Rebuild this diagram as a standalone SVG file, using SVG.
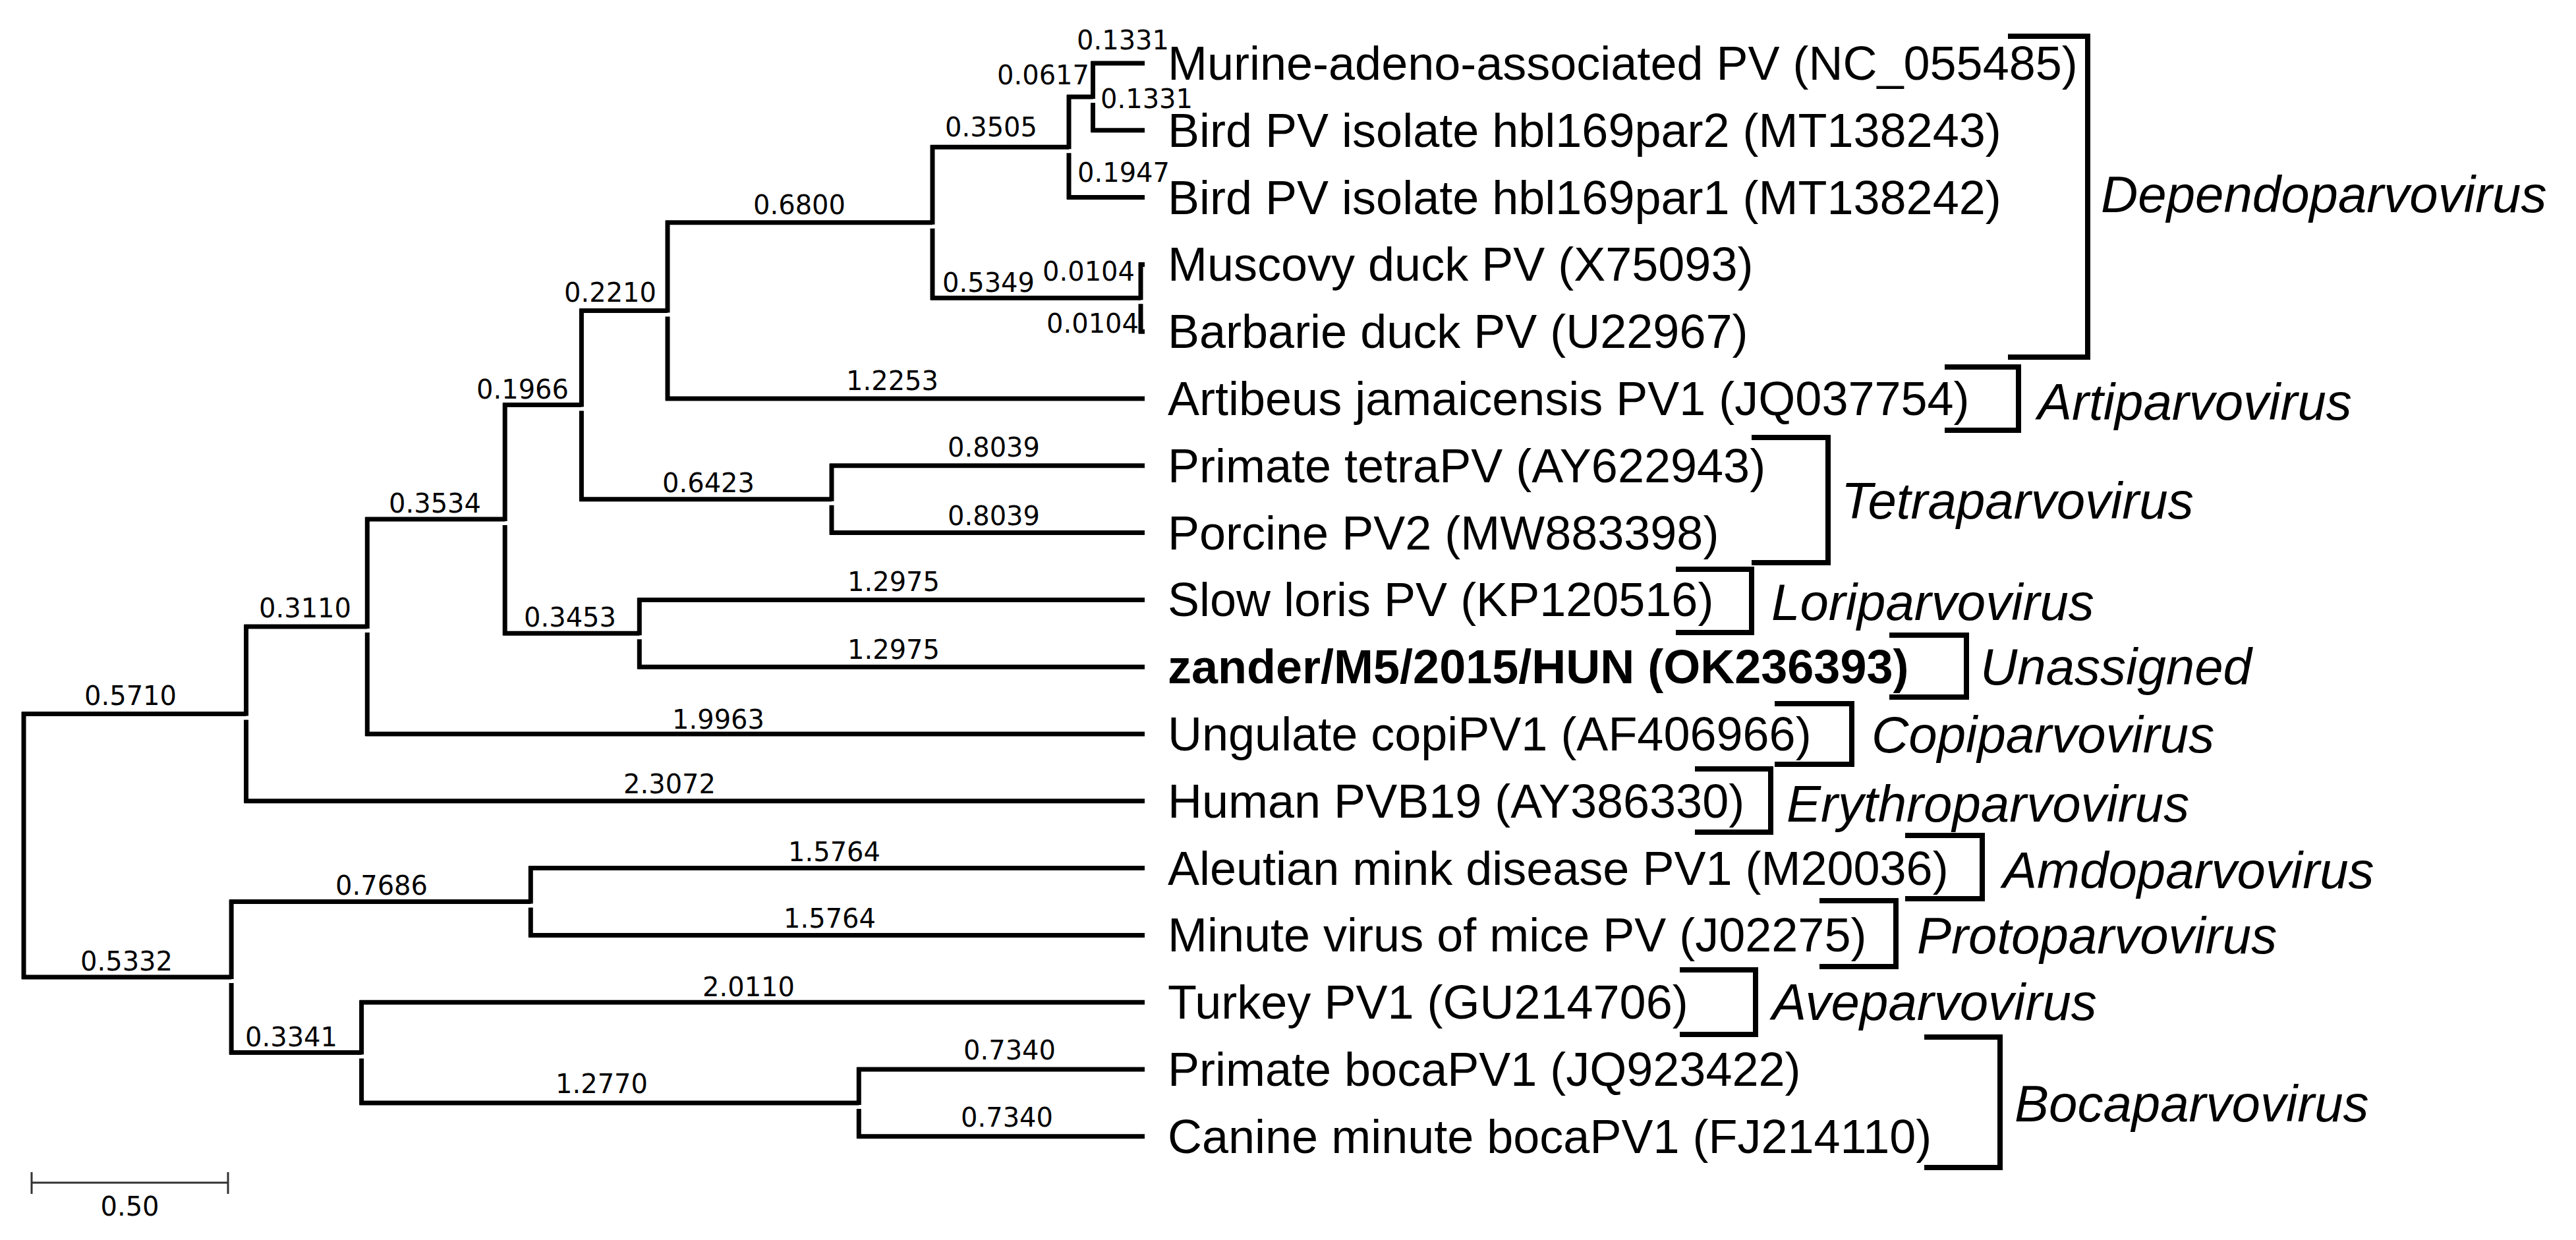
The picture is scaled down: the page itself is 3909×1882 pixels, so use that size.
<svg xmlns="http://www.w3.org/2000/svg" width="3909" height="1882" viewBox="0 0 3909 1882">
<style>
.br{stroke:#000;stroke-width:7;fill:none}
.bk{stroke:#000;stroke-width:8;fill:none}
.sb{stroke:#333;stroke-width:3;fill:none}
.tx{font-family:"Liberation Sans",Arial,sans-serif;font-size:72px;fill:#000}
.bold{font-weight:bold}
.bl{font-family:"DejaVu Sans",Verdana,sans-serif;font-size:40px;text-anchor:middle;fill:#000}
.gn{font-family:"Liberation Sans",Arial,sans-serif;font-size:78px;font-style:italic;fill:#000}
</style>
<rect width="3909" height="1882" fill="#fff"/>
<g id="connectors">
<path class="br" d="M36,1080.4 V1486 M33,1083.4 H373.5 M33,1483 H351.1"/>
<path class="br" d="M373.5,947.95 V1086.4 M373.5,1092.4 V1218.8 M370.5,950.95 H557.3 M370.5,1215.8 H1737"/>
<path class="br" d="M557.3,784.9 V953.95 M557.3,959.95 V1117 M554.3,787.9 H766.2 M554.3,1114 H1737"/>
<path class="br" d="M766.2,611.55 V790.9 M766.2,796.9 V964.3 M763.2,614.55 H882.4 M763.2,961.3 H970.3"/>
<path class="br" d="M882.4,468.4 V617.55 M882.4,623.55 V760.7 M879.4,471.4 H1013 M879.4,757.7 H1262"/>
<path class="br" d="M1013,334.8 V474.4 M1013,480.4 V608 M1010,337.8 H1415 M1010,605 H1737"/>
<path class="br" d="M1415,220.25 V340.8 M1415,346.8 V455.3 M1412,223.25 H1622 M1412,452.3 H1731"/>
<path class="br" d="M1622,143.9 V226.25 M1622,232.25 V302.6 M1619,146.9 H1658.5 M1619,299.6 H1737"/>
<path class="br" d="M1658.5,93 V149.9 M1658.5,155.9 V200.8 M1655.5,96 H1737 M1655.5,197.8 H1737"/>
<path class="br" d="M1731,398.4 V455.3 M1731,461.3 V506.2 M1728,401.4 H1737 M1728,503.2 H1737"/>
<path class="br" d="M1262,703.8 V760.7 M1262,766.7 V811.6 M1259,706.8 H1737 M1259,808.6 H1737"/>
<path class="br" d="M970.3,907.4 V964.3 M970.3,970.3 V1015.2 M967.3,910.4 H1737 M967.3,1012.2 H1737"/>
<path class="br" d="M351.1,1365.5 V1486 M351.1,1492 V1600.55 M348.1,1368.5 H805.3 M348.1,1597.55 H548.6"/>
<path class="br" d="M805.3,1314.6 V1371.5 M805.3,1377.5 V1422.4 M802.3,1317.6 H1737 M802.3,1419.4 H1737"/>
<path class="br" d="M548.6,1518.2 V1600.55 M548.6,1606.55 V1676.9 M545.6,1521.2 H1737 M545.6,1673.9 H1303.3"/>
<path class="br" d="M1303.3,1620 V1676.9 M1303.3,1682.9 V1727.8 M1300.3,1623 H1737 M1300.3,1724.8 H1737"/>
</g>
<g id="branch-lengths">
<text class="bl" x="198" y="1070">0.5710</text>
<text class="bl" x="192" y="1473">0.5332</text>
<text class="bl" x="463" y="937">0.3110</text>
<text class="bl" x="1016" y="1204">2.3072</text>
<text class="bl" x="660" y="778">0.3534</text>
<text class="bl" x="1090" y="1106">1.9963</text>
<text class="bl" x="793" y="605">0.1966</text>
<text class="bl" x="865" y="951">0.3453</text>
<text class="bl" x="926" y="458">0.2210</text>
<text class="bl" x="1075" y="747">0.6423</text>
<text class="bl" x="1213" y="325">0.6800</text>
<text class="bl" x="1354" y="592">1.2253</text>
<text class="bl" x="1504" y="207">0.3505</text>
<text class="bl" x="1500" y="443">0.5349</text>
<text class="bl" x="1583" y="128">0.0617</text>
<text class="bl" x="1705" y="276">0.1947</text>
<text class="bl" x="1704" y="75">0.1331</text>
<text class="bl" x="1740" y="164">0.1331</text>
<text class="bl" x="1652" y="426">0.0104</text>
<text class="bl" x="1658" y="505">0.0104</text>
<text class="bl" x="1508" y="693">0.8039</text>
<text class="bl" x="1508" y="797">0.8039</text>
<text class="bl" x="1356" y="897">1.2975</text>
<text class="bl" x="1356" y="1000">1.2975</text>
<text class="bl" x="579" y="1358">0.7686</text>
<text class="bl" x="442" y="1588">0.3341</text>
<text class="bl" x="1266" y="1307">1.5764</text>
<text class="bl" x="1259" y="1408">1.5764</text>
<text class="bl" x="1136" y="1512">2.0110</text>
<text class="bl" x="913" y="1659">1.2770</text>
<text class="bl" x="1532" y="1608">0.7340</text>
<text class="bl" x="1528" y="1710">0.7340</text>
</g>
<g id="taxon-murine"><text class="tx" x="1772" y="121">Murine-adeno-associated PV (NC_055485)</text></g>
<g id="taxon-bird2"><text class="tx" x="1772" y="222.8">Bird PV isolate hbl169par2 (MT138243)</text></g>
<g id="taxon-bird1"><text class="tx" x="1772" y="324.6">Bird PV isolate hbl169par1 (MT138242)</text></g>
<g id="taxon-muscovy"><text class="tx" x="1772" y="426.4">Muscovy duck PV (X75093)</text></g>
<g id="taxon-barbarie"><text class="tx" x="1772" y="528.2">Barbarie duck PV (U22967)</text></g>
<g id="taxon-artibeus"><text class="tx" x="1772" y="630">Artibeus jamaicensis PV1 (JQ037754)</text></g>
<g id="taxon-primate-tetra"><text class="tx" x="1772" y="731.8">Primate tetraPV (AY622943)</text></g>
<g id="taxon-porcine"><text class="tx" x="1772" y="833.6">Porcine PV2 (MW883398)</text></g>
<g id="taxon-slowloris"><text class="tx" x="1772" y="935.4">Slow loris PV (KP120516)</text></g>
<g id="taxon-zander"><text class="tx bold" x="1772" y="1037.2">zander/M5/2015/HUN (OK236393)</text></g>
<g id="taxon-ungulate"><text class="tx" x="1772" y="1139">Ungulate copiPV1 (AF406966)</text></g>
<g id="taxon-human"><text class="tx" x="1772" y="1240.8">Human PVB19 (AY386330)</text></g>
<g id="taxon-aleutian"><text class="tx" x="1772" y="1342.6">Aleutian mink disease PV1 (M20036)</text></g>
<g id="taxon-minute"><text class="tx" x="1772" y="1444.4">Minute virus of mice PV (J02275)</text></g>
<g id="taxon-turkey"><text class="tx" x="1772" y="1546.2">Turkey PV1 (GU214706)</text></g>
<g id="taxon-primate-boca"><text class="tx" x="1772" y="1648">Primate bocaPV1 (JQ923422)</text></g>
<g id="taxon-canine"><text class="tx" x="1772" y="1749.8">Canine minute bocaPV1 (FJ214110)</text></g>
<g id="genus-dependo"><path class="bk" d="M3047,55 H3168 V542 H3047"/><text class="gn" x="3188" y="322">Dependoparvovirus</text></g>
<g id="genus-arti"><path class="bk" d="M2951,557 H3063 V653 H2951"/><text class="gn" x="3092" y="637">Artiparvovirus</text></g>
<g id="genus-tetra"><path class="bk" d="M2658,664 H2774 V854 H2658"/><text class="gn" x="2794" y="787">Tetraparvovirus</text></g>
<g id="genus-lori"><path class="bk" d="M2543,864 H2658 V960 H2543"/><text class="gn" x="2688" y="941">Loriparvovirus</text></g>
<g id="genus-unassigned"><path class="bk" d="M2867,964 H2984 V1058 H2867"/><text class="gn" x="3005" y="1039">Unassigned</text></g>
<g id="genus-copi"><path class="bk" d="M2693,1068 H2810 V1160 H2693"/><text class="gn" x="2840" y="1142">Copiparvovirus</text></g>
<g id="genus-erythro"><path class="bk" d="M2572,1167 H2687 V1263 H2572"/><text class="gn" x="2711" y="1247">Erythroparvovirus</text></g>
<g id="genus-amdo"><path class="bk" d="M2891,1268 H3008 V1364 H2891"/><text class="gn" x="3039" y="1348">Amdoparvovirus</text></g>
<g id="genus-proto"><path class="bk" d="M2761,1367 H2877 V1467 H2761"/><text class="gn" x="2909" y="1447">Protoparvovirus</text></g>
<g id="genus-ave"><path class="bk" d="M2549,1472 H2664 V1570 H2549"/><text class="gn" x="2689" y="1548">Aveparvovirus</text></g>
<g id="genus-boca"><path class="bk" d="M2920,1574 H3035 V1772 H2920"/><text class="gn" x="3057" y="1702">Bocaparvovirus</text></g>
<g id="scale-bar">
<path class="sb" d="M48,1795 H346 M48,1779 V1812 M346,1779 V1812"/>
<text class="bl" x="197" y="1845">0.50</text>
</g>
</svg>
